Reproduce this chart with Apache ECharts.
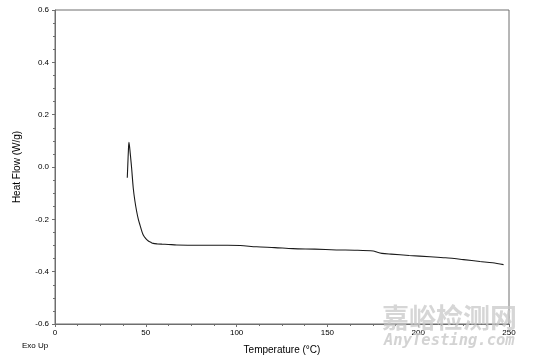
<!DOCTYPE html>
<html>
<head>
<meta charset="utf-8">
<script src="https://cdn.jsdelivr.net/npm/echarts@6/dist/echarts.min.js"></script>
<style>html,body{margin:0;padding:0;background:#fff}#c{width:534px;height:362px}</style>
</head>
<body>
<div id="c"></div>
<script>
var temperature = [39.8, 40.1, 40.4, 40.7, 41.1, 41.6, 42.2, 43.1, 44.0, 45.0, 45.9, 46.8, 47.7, 48.6, 50.0, 51.4, 52.8, 54.1, 56.5, 59.0, 62.4, 67, 80, 95, 102, 111, 121, 131, 143, 155, 165, 175.3, 177.5, 180, 185, 195, 206.5, 215, 225, 234, 241, 247];
var heatFlow = [-0.041, 0.01, 0.06, 0.094, 0.075, 0.04, -0.005, -0.081, -0.13, -0.171, -0.2, -0.222, -0.243, -0.260, -0.274, -0.283, -0.288, -0.292, -0.294, -0.295, -0.296, -0.298, -0.299, -0.299, -0.300, -0.305, -0.308, -0.312, -0.314, -0.317, -0.318, -0.321, -0.326, -0.330, -0.333, -0.338, -0.343, -0.347, -0.354, -0.361, -0.366, -0.373];
var xTicks = [0, 50, 100, 150, 200, 250];
var yTicks = [-0.6, -0.4, -0.2, 0.0, 0.2, 0.4, 0.6];

var chart = echarts.init(document.getElementById('c'), null, {renderer: 'canvas'});
var font = 'Liberation Sans, Arial, sans-serif';
var axisColor = '#6e6e6e';
chart.setOption({
  animation: false,
  backgroundColor: '#fff',
  grid: {left: 55, top: 10, right: 25, bottom: 38, show: true, borderColor: axisColor, borderWidth: 1, backgroundColor: 'transparent'},
  xAxis: {
    type: 'value', min: xTicks[0], max: xTicks[xTicks.length - 1], interval: 50,
    name: 'Temperature (°C)', nameLocation: 'middle', nameGap: 21,
    nameTextStyle: {fontFamily: font, fontSize: 10, color: '#000'},
    axisLine: {show: true, onZero: false, lineStyle: {color: axisColor, width: 1}},
    axisTick: {show: true, inside: false, length: 3, lineStyle: {color: axisColor}},
    minorTick: {show: true, splitNumber: 4, length: 2, lineStyle: {color: axisColor}},
    splitLine: {show: false},
    axisLabel: {fontFamily: font, fontSize: 8, color: '#000', margin: 5,
      formatter: function (v) { return String(v); }}
  },
  yAxis: {
    type: 'value', min: yTicks[0], max: yTicks[yTicks.length - 1], interval: 0.2,
    name: 'Heat Flow (W/g)', nameLocation: 'middle', nameGap: 33, nameRotate: 90,
    nameTextStyle: {fontFamily: font, fontSize: 10, color: '#000'},
    axisLine: {show: true, onZero: false, lineStyle: {color: axisColor, width: 1}},
    axisTick: {show: true, inside: false, length: 3, lineStyle: {color: axisColor}},
    minorTick: {show: true, splitNumber: 4, length: 2, lineStyle: {color: axisColor}},
    splitLine: {show: false},
    axisLabel: {fontFamily: font, fontSize: 8, color: '#000', margin: 6,
      formatter: function (v) { return v.toFixed(1); }}
  },
  series: [{
    type: 'line', showSymbol: false, smooth: 0.3,
    lineStyle: {color: '#1a1a1a', width: 1.1},
    data: temperature.map(function (t, i) { return [t, heatFlow[i]]; })
  }],
  graphic: [
    {type: 'text', left: 22, top: 342, style: {text: 'Exo Up', font: '8px ' + font, fill: '#000'}},
    {type: 'text', left: 382, top: 304, z: 100, style: {text: '嘉峪检测网', font: 'bold 27px "Noto Sans CJK SC"', fill: 'rgba(200,200,200,0.75)'}},
    {type: 'text', left: 384, top: 333, z: 100, style: {text: 'AnyTesting.com', font: 'italic bold 15.5px "DejaVu Sans Mono", monospace', fill: 'rgba(200,200,200,0.8)'}}
  ]
});
</script>
</body>
</html>
